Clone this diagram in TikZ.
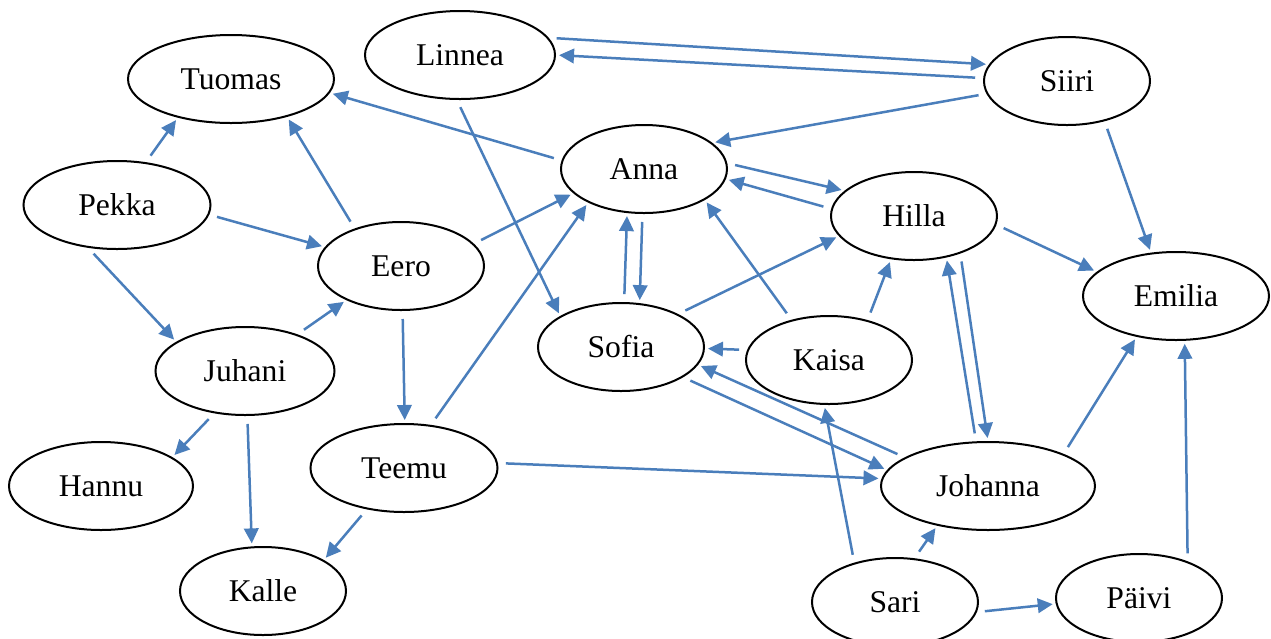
\documentclass[tikz,border=0pt]{standalone}
\usepackage{fontspec}
\setmainfont{Liberation Serif}
\usetikzlibrary{arrows.meta, shapes.geometric}
\definecolor{linkblue}{RGB}{74,126,187}

\begin{document}
\begin{tikzpicture}[x=0.2mm, y=-0.2mm,
    person/.style={draw, ellipse, line width=0.4mm, minimum width=33.2mm,
                   minimum height=17.6mm, inner sep=0pt,
                   font=\fontsize{18}{22}\selectfont},
    link/.style={->, color=linkblue, line width=0.5mm,
                 shorten >=0.6mm, shorten <=1.6mm},
    >={Triangle[length=3mm, width=2.9mm]}]
\useasboundingbox (0,0) rectangle (1271,638);
% people
\node[person, minimum width=41.2mm] (tuomas) at (231,79) {Tuomas};
\node[person, minimum width=38mm] (linnea) at (460,55) {Linnea};
\node[person] (siiri) at (1067,81) {Siiri};
\node[person] (anna) at (644,169) {Anna};
\node[person, minimum width=37.4mm] (pekka) at (117,205) {Pekka};
\node[person] (eero) at (401,266) {Eero};
\node[person] (hilla) at (914,216) {Hilla};
\node[person, minimum width=37.2mm] (emilia) at (1176,296) {Emilia};
\node[person, minimum width=35.8mm] (juhani) at (245,371) {Juhani};
\node[person] (sofia) at (621,347) {Sofia};
\node[person] (kaisa) at (829,360) {Kaisa};
\node[person, minimum width=36.8mm] (hannu) at (101,486) {Hannu};
\node[person, minimum width=37.4mm] (teemu) at (404,468) {Teemu};
\node[person, minimum width=42.8mm] (johanna) at (988,486) {Johanna};
\node[person] (kalle) at (263,591) {Kalle};
\node[person] (sari) at (895,602) {Sari};
\node[person] (paivi) at (1139,598) {Päivi};
% who points at whom
\draw[link] (pekka.56) -- (tuomas.216);
\draw[link] (pekka.-6) -- (eero.166);
\draw[link] (pekka.236) -- (juhani.157);
\draw[link] (eero.141) -- (tuomas.-34);
\draw[link] (eero.17) -- (anna.199);
\draw[link] (juhani.35) -- (eero.212);
\draw[link] (juhani.234) -- (hannu.22);
\draw[link] (juhani.273) -- (kalle.104);
\draw[link] (eero.272) -- (teemu.89);
\draw[link] (teemu.228) -- (kalle.27);
\draw[link] (teemu.58) -- (anna.211);
\draw[link] (teemu.3) -- (johanna.176);
\draw[link] (anna.174) -- (tuomas.-8);
\draw[link] (linnea.11) -- (siiri.168);
\draw[link] (siiri.178) -- (linnea.0);
\draw[link] (siiri.189) -- (anna.21);
\draw[link] (siiri.313) -- (emilia.120);
\draw[link] (linnea.266) -- (sofia.153);
\draw[link] (anna.4) -- (hilla.160);
\draw[link] (hilla.175) -- (anna.-7);
\draw[link] (anna.268) -- (sofia.67);
\draw[link] (sofia.86) -- (anna.249);
\draw[link] (sofia.30) -- (hilla.195);
\draw[link] (kaisa.133) -- (anna.333);
\draw[link] (kaisa.173) -- (sofia.-1);
\draw[link] (kaisa.46) -- (hilla.242);
\draw[link] (hilla.354) -- (emilia.163);
\draw[link] (hilla.321) -- (johanna.90);
\draw[link] (johanna.105) -- (hilla.308);
\draw[link] (johanna.161) -- (sofia.347);
\draw[link] (sofia.334) -- (johanna.171);
\draw[link] (johanna.23) -- (emilia.226);
\draw[link] (sari.136) -- (kaisa.264);
\draw[link] (sari.66) -- (johanna.218);
\draw[link] (sari.353) -- (paivi.184);
\draw[link] (paivi.37) -- (emilia.281);
\end{tikzpicture}
\end{document}
